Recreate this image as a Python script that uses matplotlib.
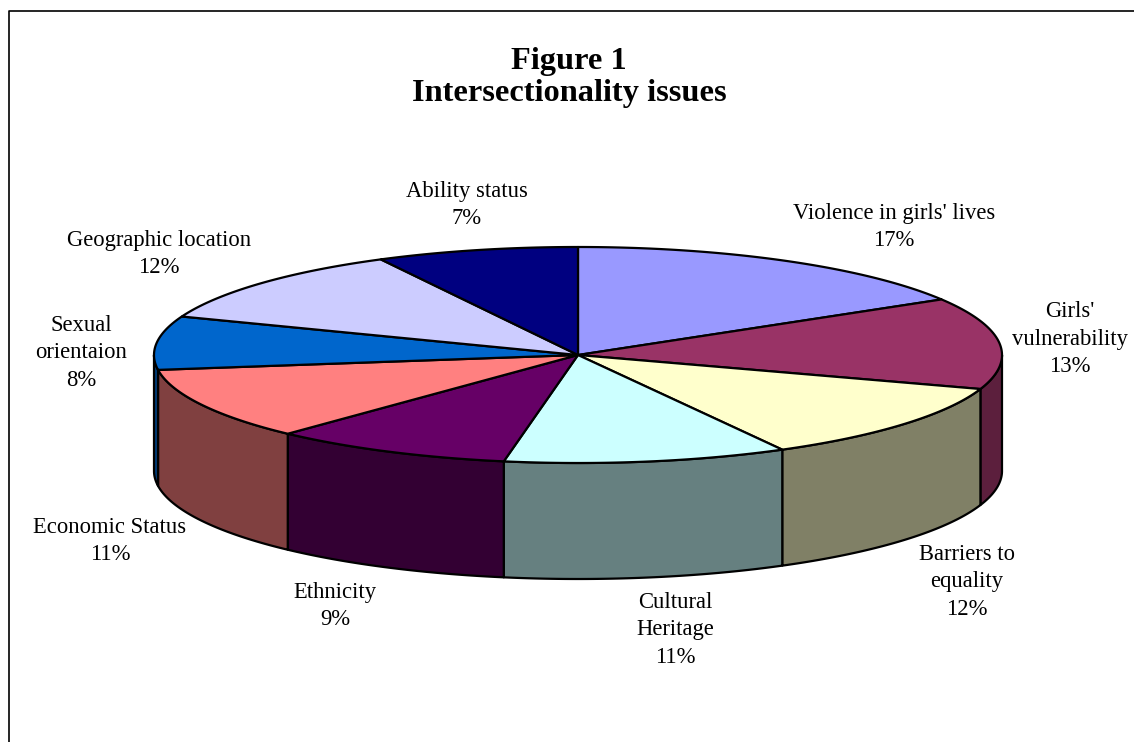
import numpy as np
import matplotlib
matplotlib.use('Agg')
import matplotlib.pyplot as plt
from matplotlib.patches import Polygon

labels = ["Violence in girls' lives\n17%", "Girls'\nvulnerability\n13%", "Barriers to\nequality\n12%",
          "Cultural\nHeritage\n11%", "Ethnicity\n9%", "Economic Status\n11%",
          "Sexual\norientaion\n8%", "Geographic location\n12%", "Ability status\n7%"]
# slice shares as measured on the drawn pie, the printed percents are in the labels
values = [16.4, 13.7, 11.9, 10.8, 9.2, 10.8, 8.0, 11.5, 7.7]
top_colors = ['#9999FF', '#993366', '#FFFFCC', '#CCFFFF', '#660066', '#FF8080', '#0066CC', '#CCCCFF', '#000080']
side_colors = ['#5C5C99', '#5C1F3D', '#808066', '#668080', '#330033', '#804040', '#003D7A', '#7A7A99', '#00004D']
label_x = [894, 1070, 967, 675, 335, 110, 81, 159, 467]
label_y = [227, 339, 582, 630, 606, 541, 353, 254, 205]

plt.rcParams['font.family'] = ['Liberation Serif', 'DejaVu Serif']

# pie geometry, in picture pixels
cx, cy = 578, 355
rx, ry = 424, 108
depth = 116

fig = plt.figure(figsize=(11.34, 7.42), dpi=100)
ax = fig.add_axes([0, 0, 1, 1])
ax.set_xlim(0, 1134)
ax.set_ylim(742, 0)
ax.axis('off')


def rim(a0, a1):
    # angles are clockwise from the top of the pie
    t = np.radians(np.linspace(a0, a1, 200))
    return cx + rx * np.sin(t), cy - ry * np.cos(t)


edges = np.cumsum([0] + values) / sum(values) * 360

# side wall first, only the front half of the rim shows
for i in range(len(values)):
    a0 = max(edges[i], 90)
    a1 = min(edges[i + 1], 270)
    if a1 <= a0:
        continue
    x, y = rim(a0, a1)
    pts = np.vstack([np.c_[x, y], np.c_[x[::-1], y[::-1] + depth]])
    ax.add_patch(Polygon(pts, closed=True, facecolor=side_colors[i], edgecolor='black', lw=1.6, joinstyle='round'))

# top face
for i in range(len(values)):
    x, y = rim(edges[i], edges[i + 1])
    pts = np.vstack([[cx, cy], np.c_[x, y]])
    ax.add_patch(Polygon(pts, closed=True, facecolor=top_colors[i], edgecolor='black', lw=1.6, joinstyle='round'))

for i in range(len(labels)):
    ax.text(label_x[i], label_y[i], labels[i], ha='center', va='center', fontsize=16.3, color='black', linespacing=1.38)

ax.text(569, 77.5, 'Figure 1\nIntersectionality issues', ha='center', va='center', fontsize=23.3,
        fontweight='bold', linespacing=1.12)

# chart frame, cut off by the picture on the right and bottom
ax.plot([8.5, 8.5, 1134], [742, 10.5, 10.5], color='black', lw=1.2)

fig.savefig('out.png', dpi=100)
